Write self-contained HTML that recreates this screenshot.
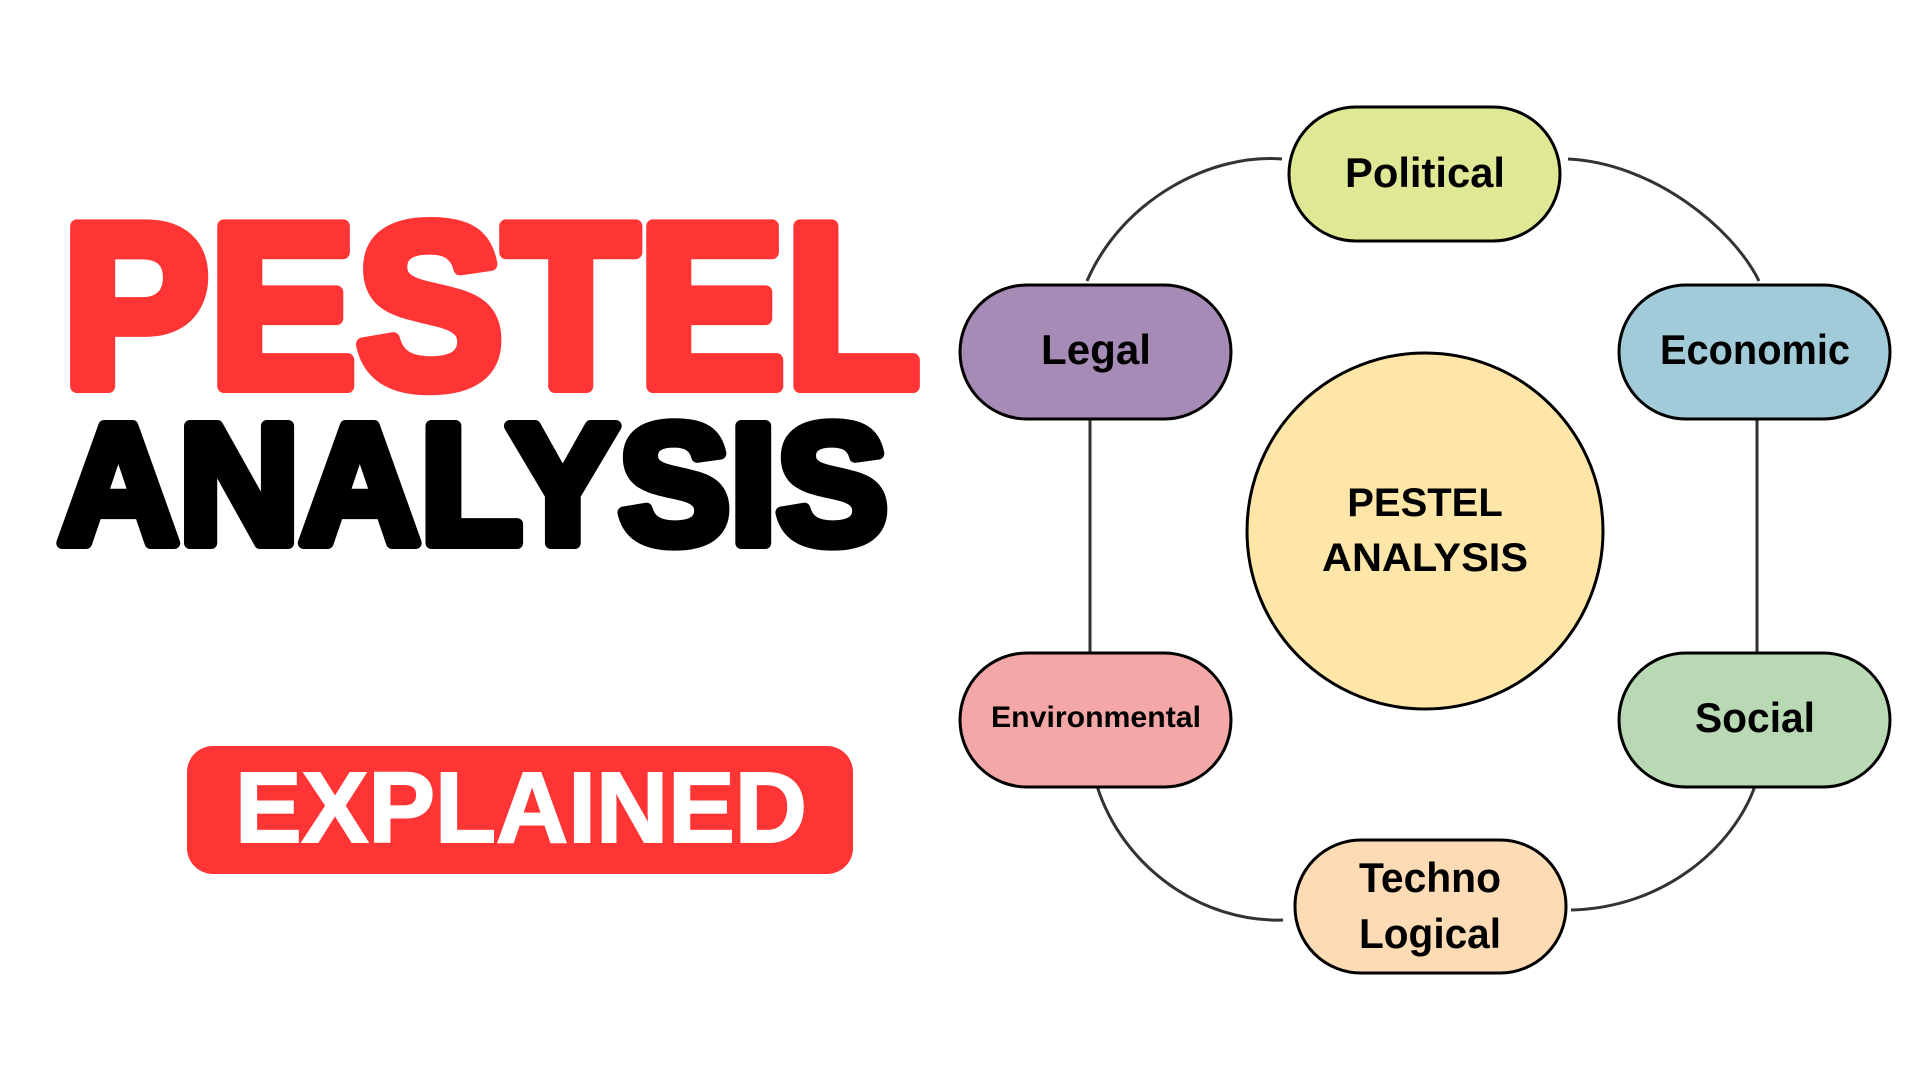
<!DOCTYPE html>
<html><head><meta charset="utf-8"><style>html,body{margin:0;padding:0;background:#fff}svg{display:block}</style></head>
<body>
<svg width="1920" height="1080" viewBox="0 0 1920 1080" xmlns="http://www.w3.org/2000/svg" font-family="Liberation Sans, sans-serif" font-weight="bold">
<rect width="1920" height="1080" fill="#fff"/>
<!-- Title -->
<text x="62" y="386" font-size="232" fill="#ff3535" stroke="#ff3535" stroke-width="14" stroke-linejoin="round" textLength="858" lengthAdjust="spacingAndGlyphs">PESTEL</text>
<text x="58" y="543" font-size="170" fill="#000" stroke="#000" stroke-width="12" stroke-linejoin="round" textLength="830" lengthAdjust="spacingAndGlyphs">ANALYSIS</text>
<rect x="187" y="746" width="666" height="128" rx="26" fill="#ff3535"/>
<text x="235" y="842" font-size="100" fill="#fff" stroke="#fff" stroke-width="2" textLength="572" lengthAdjust="spacingAndGlyphs">EXPLAINED</text>
<g transform="translate(-7,-2)">
<!-- Connectors -->
<g fill="none" stroke="#333" stroke-width="3">
<path d="M1094 283 C1130 200 1220 155 1289 161"/>
<path d="M1575 161 C1660 165 1740 230 1766 283"/>
<path d="M1097 421 L1097 654"/>
<path d="M1764 421 L1764 654"/>
<path d="M1104 788 C1130 870 1210 925 1290 922"/>
<path d="M1578 912 C1670 910 1740 850 1762 788"/>
</g>
<!-- Center -->
<circle cx="1432" cy="533" r="178" fill="#fde6a8" stroke="#000" stroke-width="3"/>
<text x="1432" y="518" font-size="40" text-anchor="middle" fill="#000">PESTEL</text>
<text x="1432" y="573" font-size="40" text-anchor="middle" fill="#000" textLength="206" lengthAdjust="spacingAndGlyphs">ANALYSIS</text>
<!-- Nodes -->
<g stroke="#000" stroke-width="3">
<rect x="1296" y="109" width="271" height="134" rx="67" fill="#dfe894"/>
<rect x="967" y="287" width="271" height="134" rx="67" fill="#a78bb7"/>
<rect x="1626" y="287" width="271" height="134" rx="67" fill="#a1cbd8"/>
<rect x="967" y="655" width="271" height="134" rx="67" fill="#f4a7a7"/>
<rect x="1626" y="655" width="271" height="134" rx="67" fill="#b9d9b4"/>
<rect x="1302" y="842" width="271" height="133" rx="66" fill="#fddbb4"/>
</g>
<g fill="#000" text-anchor="middle" font-size="42">
<text x="1432" y="189" textLength="160" lengthAdjust="spacingAndGlyphs">Political</text>
<text x="1103" y="366" textLength="110" lengthAdjust="spacingAndGlyphs">Legal</text>
<text x="1762" y="366" textLength="190" lengthAdjust="spacingAndGlyphs">Economic</text>
<text x="1103" y="729" font-size="30" textLength="210" lengthAdjust="spacingAndGlyphs">Environmental</text>
<text x="1762" y="734" textLength="120" lengthAdjust="spacingAndGlyphs">Social</text>
<text x="1437" y="894" textLength="142" lengthAdjust="spacingAndGlyphs">Techno</text>
<text x="1437" y="950" textLength="142" lengthAdjust="spacingAndGlyphs">Logical</text>
</g>
</g>
</svg>
</body></html>
